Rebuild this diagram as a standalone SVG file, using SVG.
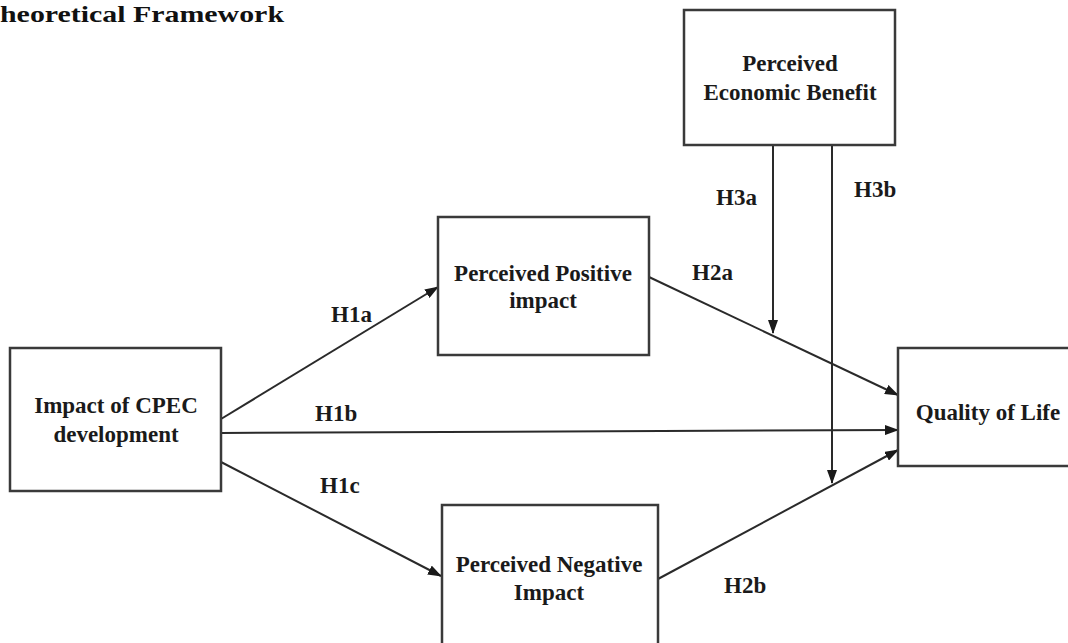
<svg xmlns="http://www.w3.org/2000/svg" width="1068" height="643" viewBox="0 0 1068 643">
<style>
.box{fill:#fff;stroke:#3a3a3a;stroke-width:2.5}
.lbl{font-family:"Liberation Serif","Times New Roman",serif;font-weight:bold;font-size:23px;fill:#1a1a1a;text-anchor:middle}
.hyp{font-family:"Liberation Serif","Times New Roman",serif;font-weight:bold;font-size:23px;fill:#1a1a1a}
.edge{stroke:#2a2a2a;stroke-width:2;fill:none;marker-end:url(#ah)}
.title{font-family:"Liberation Serif","Times New Roman",serif;font-weight:bold;font-size:24px;fill:#111}
</style>
<defs>
<marker id="ah" markerUnits="userSpaceOnUse" markerWidth="14" markerHeight="10" refX="13" refY="5" orient="auto">
<path d="M0,0 L14,5 L0,10 Z" fill="#1a1a1a"/>
</marker>
</defs>
<rect width="1068" height="643" fill="#fff"/>
<text class="title" x="0" y="22" textLength="284" lengthAdjust="spacingAndGlyphs">heoretical Framework</text>
<g id="connectors">
<line class="edge" x1="221" y1="419" x2="438" y2="287"/>
<line class="edge" x1="221" y1="433" x2="898" y2="430"/>
<line class="edge" x1="221" y1="462" x2="441" y2="576"/>
<line class="edge" x1="649" y1="277" x2="898" y2="395"/>
<line class="edge" x1="658" y1="579" x2="898" y2="450"/>
<line class="edge" x1="773" y1="145" x2="773" y2="333"/>
<line class="edge" x1="832" y1="145" x2="832" y2="483"/>
<text class="hyp" x="331" y="322">H1a</text>
<text class="hyp" x="315" y="421">H1b</text>
<text class="hyp" x="320" y="493">H1c</text>
<text class="hyp" x="692" y="280">H2a</text>
<text class="hyp" x="724" y="593">H2b</text>
<text class="hyp" x="716" y="205">H3a</text>
<text class="hyp" x="854" y="197">H3b</text>
</g>
<g id="node-cpec">
<rect class="box" x="10" y="348" width="211" height="143"/>
<text class="lbl" x="116" y="413">Impact of CPEC</text>
<text class="lbl" x="116" y="442">development</text>
</g>
<g id="node-positive">
<rect class="box" x="438" y="217" width="211" height="138"/>
<text class="lbl" x="543" y="281">Perceived Positive</text>
<text class="lbl" x="543" y="308">impact</text>
</g>
<g id="node-negative">
<rect class="box" x="442" y="505" width="216" height="150"/>
<text class="lbl" x="549" y="572">Perceived Negative</text>
<text class="lbl" x="549" y="600">Impact</text>
</g>
<g id="node-economic">
<rect class="box" x="684" y="10" width="211" height="135"/>
<text class="lbl" x="790" y="71">Perceived</text>
<text class="lbl" x="790" y="100">Economic Benefit</text>
</g>
<g id="node-qol">
<rect class="box" x="898" y="348" width="172" height="118"/>
<text class="lbl" x="988" y="420">Quality of Life</text>
</g>
</svg>
